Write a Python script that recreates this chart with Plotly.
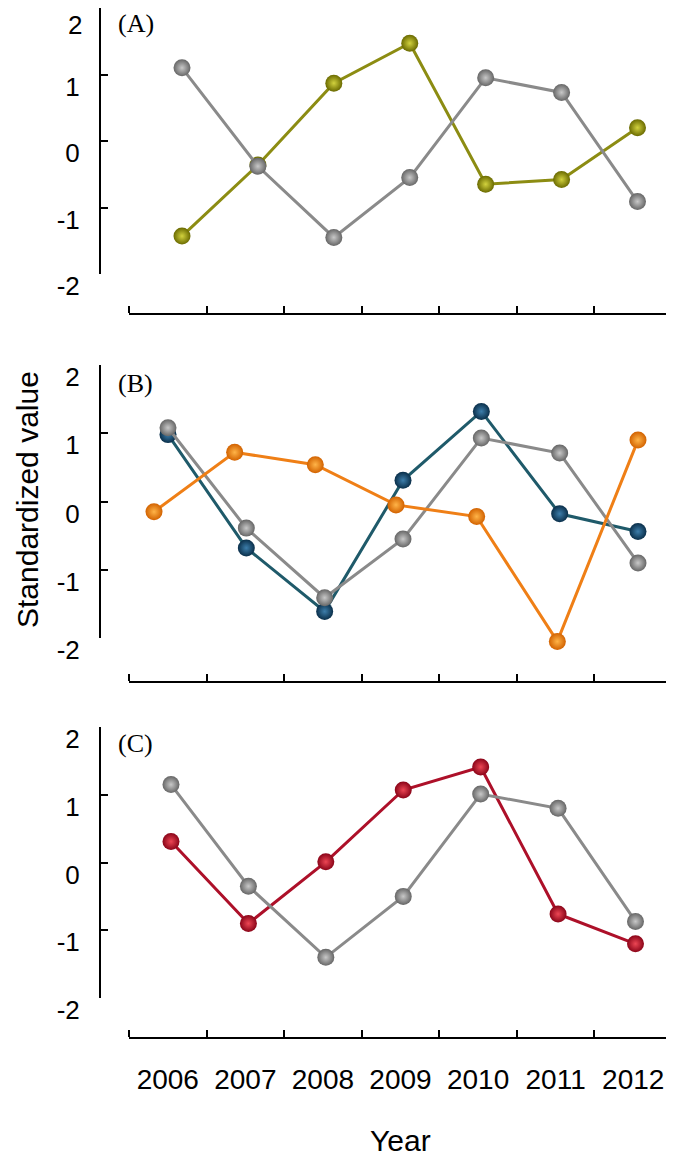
import plotly.graph_objects as go

# ---------------- data ----------------
years = [2006, 2007, 2008, 2009, 2010, 2011, 2012]
year_labels = [str(y) for y in years]
y_ticks = [-2, -1, 0, 1, 2]
y_tick_labels = ["-2", "-1", "0", "1", "2"]

gray_a = [1.10, -0.38, -1.45, -0.55, 0.95, 0.73, -0.91]
olive_a = [-1.43, -0.36, 0.87, 1.47, -0.65, -0.58, 0.20]

gray_b = [1.08, -0.39, -1.41, -0.55, 0.93, 0.71, -0.90]
blue_b = [0.98, -0.68, -1.61, 0.31, 1.32, -0.18, -0.44]
orange_b = [-0.15, 0.72, 0.54, -0.05, -0.22, -2.05, 0.90]

gray_c = [1.15, -0.35, -1.40, -0.50, 1.01, 0.80, -0.87]
red_c = [0.31, -0.90, 0.01, 1.07, 1.41, -0.76, -1.20]

panel_labels = ["(A)", "(B)", "(C)"]
y_title = "Standardized value"
x_title = "Year"

# ---------------- layout helpers (screen pixels) ----------------
W, H = 674, 1160
OFF = 8            # page offset of the figure inside the browser window
X_LEFT, X_RIGHT = 129, 672
Y_AXIS_X = 100
PAD = 22           # extra room around data subplots so markers are not clipped
SANS = "Liberation Sans, Arial, sans-serif"
SERIF = "Liberation Serif, Times New Roman, serif"


def fx(p):
    return (p - OFF) / W


def fy(p):
    return min(1.0, 1 - (p - OFF) / H)


def data_xrange(p_first, p_last):
    s = (p_last - p_first) / (years[-1] - years[0])
    return [years[0] - (p_first - X_LEFT) / s, years[-1] + (X_RIGHT - p_last) / s]


bounds = [y - 0.5 for y in years] + [years[-1] + 0.5]

# colour styles: (line, marker edge, marker centre)
GRAY = ("#8a8a8a", "#666666", "#c8c8c8")
OLIVE = ("#8c8c12", "#6a6a00", "#d2d23e")
BLUE = ("#1f5a6a", "#0a2f4a", "#3d7eab")
ORANGE = ("#ef7f16", "#d26200", "#ffb448")
RED = ("#ad1029", "#8a0418", "#ec4654")

panels = [
    dict(top=3, bottom=274, xline=314, label_y=23, n=1, data_px=(182, 637.5), show_labels=False),
    dict(top=365, bottom=638, xline=682, label_y=383, n=2, data_px=(168, 638), show_labels=False),
    dict(top=727, bottom=998, xline=1038, label_y=743, n=3, data_px=(171, 635.5), show_labels=True),
]

fig = go.Figure()
layout = {}
annotations = []


def add_series(vals, style, xa, ya):
    line_c, edge_c, centre_c = style
    fig.add_trace(go.Scatter(
        x=years, y=vals, mode="lines+markers", xaxis=xa, yaxis=ya,
        line=dict(color=line_c, width=3),
        marker=dict(size=17, color=edge_c,
                    gradient=dict(type="radial", color=centre_c),
                    line=dict(width=0)),
        cliponaxis=False, showlegend=False, hoverinfo="x+y",
    ))


for p in panels:
    n = p["n"]
    vis_x, vis_y = f"x{2 * n - 1}", f"y{2 * n - 1}"
    dat_x, dat_y = f"x{2 * n}", f"y{2 * n}"
    p["dat_x"], p["dat_y"] = dat_x, dat_y

    # empty trace so the visible (bin) axes get their subplot
    fig.add_trace(go.Scatter(x=[], y=[], xaxis=vis_x, yaxis=vis_y,
                             showlegend=False, hoverinfo="skip"))

    top = max(p["top"], OFF)
    bottom = p["bottom"]
    unit = (bottom - top) / 4.0
    d_top = max(OFF, top - PAD)
    d_bot = bottom + PAD

    tick_text = list(y_tick_labels)
    if p["top"] < OFF + 12:
        # the top label sits right at the page edge: place it as text just inside
        annotations.append(dict(text=tick_text[-1], xref="paper", yref="paper",
                                x=fx(84), y=fy(OFF), xanchor="right", yanchor="top",
                                showarrow=False,
                                font=dict(family=SANS, size=26, color="black")))
        tick_text[-1] = ""

    layout["xaxis" + vis_x[1:]] = dict(
        domain=[fx(X_LEFT), fx(X_RIGHT)], range=[bounds[0], bounds[-1]],
        anchor="free", position=fy(p["xline"]), automargin=False,
        showline=True, linecolor="black", linewidth=2,
        tickmode="array", tickvals=years, ticktext=year_labels, ticks="",
        showticklabels=p["show_labels"], ticklabelstandoff=16,
        ticklabeloverflow="allow",
        tickfont=dict(family=SANS, size=28, color="black"),
        minor=dict(tickmode="array", tickvals=bounds, ticks="inside",
                   ticklen=7, tickwidth=2, tickcolor="black", showgrid=False),
        showgrid=False, zeroline=False,
    )
    layout["yaxis" + vis_y[1:]] = dict(
        domain=[fy(bottom), fy(top)], range=[-2, 2],
        anchor="free", position=fx(Y_AXIS_X), automargin=False,
        showline=True, linecolor="black", linewidth=2,
        ticks="inside", ticklen=7, tickwidth=2, tickcolor="black",
        tickmode="array", tickvals=y_ticks, ticktext=tick_text,
        tickfont=dict(family=SANS, size=26, color="black"),
        ticklabelshift=12, ticklabelstandoff=14, ticklabeloverflow="allow",
        showgrid=False, zeroline=False,
    )
    layout["xaxis" + dat_x[1:]] = dict(
        domain=[fx(X_LEFT), fx(X_RIGHT)], range=data_xrange(*p["data_px"]),
        anchor=dat_y, visible=False, automargin=False,
    )
    layout["yaxis" + dat_y[1:]] = dict(
        domain=[fy(d_bot), fy(d_top)],
        range=[-2 - (d_bot - bottom) / unit, 2 + (top - d_top) / unit],
        anchor=dat_x, visible=False, automargin=False,
    )

# orange series in panel B has its own horizontal placement
layout["xaxis7"] = dict(domain=[fx(X_LEFT), fx(X_RIGHT)], range=data_xrange(154, 638),
                        overlaying=panels[1]["dat_x"], anchor=panels[1]["dat_y"],
                        visible=False, automargin=False)

pa, pb, pc = panels
add_series(olive_a, OLIVE, pa["dat_x"], pa["dat_y"])
add_series(gray_a, GRAY, pa["dat_x"], pa["dat_y"])

add_series(orange_b, ORANGE, "x7", pb["dat_y"])
add_series(blue_b, BLUE, pb["dat_x"], pb["dat_y"])
add_series(gray_b, GRAY, pb["dat_x"], pb["dat_y"])

add_series(red_c, RED, pc["dat_x"], pc["dat_y"])
add_series(gray_c, GRAY, pc["dat_x"], pc["dat_y"])

for p, lab in zip(panels, panel_labels):
    annotations.append(dict(text=lab, xref="paper", yref="paper", x=fx(116), y=fy(p["label_y"]),
                            xanchor="left", yanchor="middle", showarrow=False,
                            font=dict(family=SERIF, size=26, color="black")))
annotations.append(dict(text=y_title, xref="paper", yref="paper", x=fx(27), y=fy(500),
                        xanchor="center", yanchor="middle", textangle=-90, showarrow=False,
                        font=dict(family=SANS, size=30, color="black")))
annotations.append(dict(text=x_title, xref="paper", yref="paper", x=fx(400), y=fy(1140),
                        xanchor="center", yanchor="middle", showarrow=False,
                        font=dict(family=SANS, size=30, color="black")))

fig.update_layout(
    width=W, height=H, margin=dict(l=0, r=0, t=0, b=0, autoexpand=False),
    paper_bgcolor="white", plot_bgcolor="rgba(0,0,0,0)",
    showlegend=False, annotations=annotations, **layout,
)

fig.write_html("out.html")
